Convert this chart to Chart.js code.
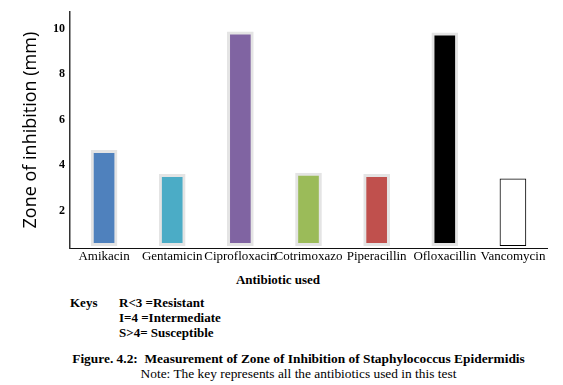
<!DOCTYPE html>
<html lang="en">
<head>
    <meta charset="UTF-8">
    <title>Zone of Inhibition</title>
    <script src="https://cdn.jsdelivr.net/npm/chart.js"></script>
    <style>
        body { margin: 0; background: #fff; }
        #wrap { position: relative; width: 563px; height: 385px; font-family: "Liberation Serif", serif; color: #000; }
        #chartBox { position: absolute; left: 0; top: 0; width: 563px; height: 270px; }
        .txt { position: absolute; white-space: pre; font-size: 13px; line-height: 15px; }
        .cap { font-size: 13.4px; }
        .b { font-weight: bold; }
    </style>
</head>
<body>
<div id="wrap">
    <div id="chartBox"><canvas id="zoneChart"></canvas></div>
    <div class="txt b" style="left:0;width:556px;text-align:center;top:272px;">Antibiotic used</div>
    <div class="txt b" style="left:70px;top:295px;">Keys</div>
    <div class="txt b" style="left:119px;top:295px;">R&lt;3 =Resistant
I=4 =Intermediate
S&gt;4= Susceptible</div>
    <div class="txt cap b" style="left:0;width:597px;text-align:center;top:351px;">Figure. 4.2:  Measurement of Zone of Inhibition of Staphylococcus Epidermidis</div>
    <div class="txt cap" style="left:0;width:597px;text-align:center;top:366px;">Note: The key represents all the antibiotics used in this test</div>
</div>
<script>
    const antibiotics = ['Amikacin', 'Gentamicin', 'Ciprofloxacin', 'Cotrimoxazo', 'Piperacillin', 'Ofloxacillin', 'Vancomycin'];
    const zoneMm = [4.65, 3.6, 9.87, 3.65, 3.6, 9.83, 3.4];
    const yTicks = [2, 4, 6, 8, 10];

    const fillColors = ['#4f81bd', '#4bacc6', '#8064a2', '#9bbb59', '#c0504d', '#000000', '#ffffff'];
    const edgeColors = ['#e4e4e4', '#e4e4e4', '#e4e4e4', '#e4e4e4', '#e4e4e4', '#e4e4e4', '#000000'];
    const edgeWidths = [3, 3, 3, 3, 3, 3, 1];

    const ctx = document.getElementById('zoneChart').getContext('2d');
    const zoneChart = new Chart(ctx, {
        type: 'bar',
        data: {
            labels: antibiotics,
            datasets: [{
                data: zoneMm,
                base: 0.45,
                backgroundColor: fillColors,
                borderColor: edgeColors,
                borderWidth: edgeWidths,
                borderSkipped: false,
                barThickness: 26
            }]
        },
        options: {
            responsive: true,
            maintainAspectRatio: false,
            animation: false,
            layout: { padding: { top: 9, right: 16, left: 0, bottom: 0 } },
            plugins: { legend: { display: false }, tooltip: { enabled: false } },
            scales: {
                x: {
                    grid: { display: false, drawTicks: false },
                    border: { color: '#111', width: 1 },
                    ticks: {
                        color: '#000',
                        font: { family: 'Liberation Serif', size: 13 },
                        padding: 1,
                        maxRotation: 0,
                        autoSkip: false
                    },
                    afterFit: s => { s.height = 22; }
                },
                y: {
                    min: 0.35,
                    max: 10.74,
                    grid: { display: false, drawTicks: false },
                    border: { color: '#333', width: 1.5 },
                    afterBuildTicks: s => { s.ticks = yTicks.map(v => ({ value: v })); },
                    ticks: {
                        color: '#000',
                        font: { family: 'Liberation Serif', size: 12, weight: 'bold' },
                        padding: 5
                    },
                    title: {
                        display: true,
                        text: 'Zone of inhibition (mm)',
                        color: '#000',
                        font: { family: 'Open Sans', size: 18 },
                        padding: { top: 20, bottom: 0 }
                    },
                    afterFit: s => { s.width = 70; }
                }
            }
        }
    });
</script>
</body>
</html>
